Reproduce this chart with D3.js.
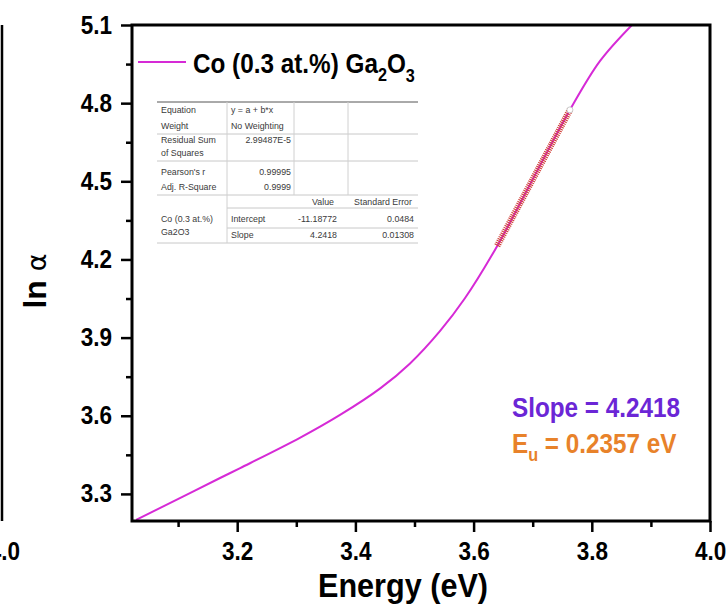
<!DOCTYPE html>
<html lang="en">
  <head>
    <meta charset="UTF-8" />
    <title>Urbach energy fit</title>
    <script src="https://d3js.org/d3.v7.min.js"></script>
    <style>
      * {
        margin: 0;
        padding: 0;
      }
      body {
        background: #fff;
      }
      text {
        font-family: "Liberation Sans", Arial, sans-serif;
      }
      .big {
        font-weight: bold;
      }
      .tbl {
        font-size: 9.8px;
        fill: #3a3a3a;
      }
    </style>
  </head>

  <body></body>

  <script>
    // data
    const energy = [3.029, 3.103, 3.171, 3.205, 3.306, 3.374, 3.442, 3.492, 3.543, 3.585, 3.64, 3.695, 3.763, 3.814, 3.868];
    const lnAlpha = [3.2, 3.284, 3.361, 3.399, 3.515, 3.603, 3.705, 3.8, 3.925, 4.05, 4.252, 4.486, 4.774, 4.962, 5.1];

    const xMajor = [3.2, 3.4, 3.6, 3.8, 4.0];
    const xMinor = [3.1, 3.3, 3.5, 3.7, 3.9];
    const yMajor = [3.3, 3.6, 3.9, 4.2, 4.5, 4.8, 5.1];
    const yMinor = [3.45, 3.75, 4.05, 4.35, 4.65, 4.95];

    // linear fit (Origin table)
    const fitRange = [3.64, 3.763];
    const fitIntercept = -11.18772;
    const fitSlope = 4.2418;

    const tableLeft = ["Equation", "Weight", "Residual Sum", "of Squares", "Pearson's r", "Adj. R-Square"];
    const tableMid = ["y = a + b*x", "No Weighting", "2.99487E-5", "0.99995", "0.9999"];
    const paramHead = ["Value", "Standard Error"];
    const paramNames = ["Intercept", "Slope"];
    const paramValues = ["-11.18772", "4.2418"];
    const paramErrors = ["0.0484", "0.01308"];

    let w = 728;
    let h = 609;
    let sx = 0.9; // the figure text is a little narrow

    let svg = d3.select("body").append("svg").attr("width", w).attr("height", h);

    let x = d3.scaleLinear().domain([3.022, 4.0]).range([132, 710]);
    let y = d3.scaleLinear().domain([3.196, 5.1]).range([521, 25]);

    function label(g, tx, ty, str, size, color, anchor) {
      return g
        .append("text")
        .attr("transform", "translate(" + tx + "," + ty + ") scale(" + sx + ",1)")
        .attr("font-size", size)
        .attr("fill", color || "#000")
        .attr("text-anchor", anchor || "start")
        .text(str);
    }

    // left neighbour panel remnants
    svg.append("line").attr("x1", 2).attr("x2", 2).attr("y1", 25).attr("y2", 521)
      .attr("stroke", "#000").attr("stroke-width", 2.5);
    label(svg, 20, 560, "4.0", 25, "#000", "end").attr("class", "big");

    // clip
    svg.append("clipPath").attr("id", "clip").append("rect")
      .attr("x", 132).attr("y", 25).attr("width", 578).attr("height", 496);

    // curve
    let line = d3.line().x((d, i) => x(energy[i])).y((d) => y(d)).curve(d3.curveCatmullRom.alpha(0.5));
    svg.append("path")
      .datum(lnAlpha)
      .attr("clip-path", "url(#clip)")
      .attr("d", line)
      .attr("fill", "none")
      .attr("stroke", "#d62ad6")
      .attr("stroke-width", 2);

    // fit segment
    let fitLine = d3.line().x((d) => x(d)).y((d) => y(fitIntercept + fitSlope * d));
    svg.append("path")
      .datum(fitRange)
      .attr("d", fitLine)
      .attr("fill", "none")
      .attr("stroke", "#d0403a")
      .attr("stroke-width", 6.5)
      .attr("stroke-dasharray", "1.1 1");
    svg.append("circle")
      .attr("cx", x(fitRange[1]))
      .attr("cy", y(fitIntercept + fitSlope * fitRange[1]))
      .attr("r", 3)
      .attr("fill", "#fff")
      .attr("stroke", "#bbb")
      .attr("stroke-width", 0.8);

    // axes
    let gx = svg.append("g").attr("transform", "translate(0,521)");
    gx.call(d3.axisBottom(x).tickValues(xMajor).tickSize(11).tickPadding(10).tickFormat(d3.format(".1f")));
    gx.append("g").call(d3.axisBottom(x).tickValues(xMinor).tickSize(6).tickFormat(""));
    gx.selectAll(".domain").remove();
    gx.selectAll("line").attr("stroke-width", 2.5);
    gx.selectAll("text")
      .attr("class", "big")
      .attr("font-size", 25)
      .attr("fill", "#000")
      .attr("transform", "scale(" + sx + ",1)");

    let gy = svg.append("g").attr("transform", "translate(132,0)");
    gy.call(d3.axisLeft(y).tickValues(yMajor).tickSize(11).tickFormat(d3.format(".1f")));
    gy.append("g").call(d3.axisLeft(y).tickValues(yMinor).tickSize(6).tickFormat(""));
    gy.selectAll(".domain").remove();
    gy.selectAll("line").attr("stroke-width", 2.5);
    gy.selectAll("text")
      .attr("class", "big")
      .attr("font-size", 25)
      .attr("fill", "#000")
      .attr("x", -20 / sx)
      .attr("transform", "scale(" + sx + ",1)");

    // frame
    svg.append("rect")
      .attr("x", 132).attr("y", 25).attr("width", 578).attr("height", 496)
      .attr("fill", "none").attr("stroke", "#000").attr("stroke-width", 3);

    // axis titles
    label(svg, 403, 597, "Energy (eV)", 34, "#000", "middle").attr("class", "big");
    let yt = svg.append("text")
      .attr("transform", "translate(46,281) rotate(-90)")
      .attr("text-anchor", "middle")
      .attr("font-size", 32);
    yt.append("tspan").attr("font-weight", "bold").text("ln ");
    yt.append("tspan").attr("font-family", "DejaVu Sans").attr("font-size", 27).text("α");

    // legend
    svg.append("line").attr("x1", 138).attr("x2", 186).attr("y1", 62).attr("y2", 62)
      .attr("stroke", "#d62ad6").attr("stroke-width", 2.2);
    let lg = label(svg, 193, 73, "", 27).attr("class", "big");
    lg.append("tspan").text("Co (0.3 at.%) Ga");
    lg.append("tspan").attr("font-size", 18).attr("dy", 8).text("2");
    lg.append("tspan").attr("dy", -8).text("O");
    lg.append("tspan").attr("font-size", 18).attr("dy", 9).text("3");

    // slope / Urbach energy
    label(svg, 512, 417, "Slope = " + fitSlope, 27, "#6b26d6").attr("class", "big");
    let eu = label(svg, 512, 453, "", 27, "#e8822a").attr("class", "big");
    eu.append("tspan").text("E");
    eu.append("tspan").attr("font-size", 18).attr("dy", 8).text("u");
    eu.append("tspan").attr("dy", -8).text(" = " + (1 / fitSlope).toFixed(4) + " eV");

    // fit table
    let t = svg.append("g");
    let hl = (y0, x0, x1, c) =>
      t.append("line").attr("x1", x0).attr("x2", x1).attr("y1", y0).attr("y2", y0)
        .attr("stroke", c || "#c8c8c8").attr("stroke-width", 1);
    let vl = (x0, y0, y1) =>
      t.append("line").attr("x1", x0).attr("x2", x0).attr("y1", y0).attr("y2", y1)
        .attr("stroke", "#d0d0d0").attr("stroke-width", 1);

    hl(102, 157, 418, "#555");
    hl(134, 157, 418);
    hl(161, 157, 418);
    hl(195, 157, 418);
    hl(208, 227, 418);
    hl(228, 227, 418);
    hl(243, 157, 418);
    vl(227, 102, 243);
    vl(294, 102, 195);
    vl(348, 102, 195);

    let leftY = [113, 129, 143, 156, 175, 190];
    tableLeft.forEach((s, i) => label(t, 161, leftY[i], s, 9.8).attr("class", "tbl"));
    label(t, 231, 113, tableMid[0], 9.8).attr("class", "tbl");
    label(t, 231, 129, tableMid[1], 9.8).attr("class", "tbl");
    label(t, 291, 143, tableMid[2], 9.8, null, "end").attr("class", "tbl");
    label(t, 291, 175, tableMid[3], 9.8, null, "end").attr("class", "tbl");
    label(t, 291, 190, tableMid[4], 9.8, null, "end").attr("class", "tbl");

    label(t, 323, 205, paramHead[0], 9.8, null, "middle").attr("class", "tbl");
    label(t, 383, 205, paramHead[1], 9.8, null, "middle").attr("class", "tbl");
    label(t, 161, 222, "Co (0.3 at.%)", 9.8).attr("class", "tbl");
    label(t, 161, 235, "Ga2O3", 9.8).attr("class", "tbl");
    paramNames.forEach((s, i) => {
      let yy = 222 + i * 16;
      label(t, 231, yy, s, 9.8).attr("class", "tbl");
      label(t, 337, yy, paramValues[i], 9.8, null, "end").attr("class", "tbl");
      label(t, 414, yy, paramErrors[i], 9.8, null, "end").attr("class", "tbl");
    });
  </script>
</html>
